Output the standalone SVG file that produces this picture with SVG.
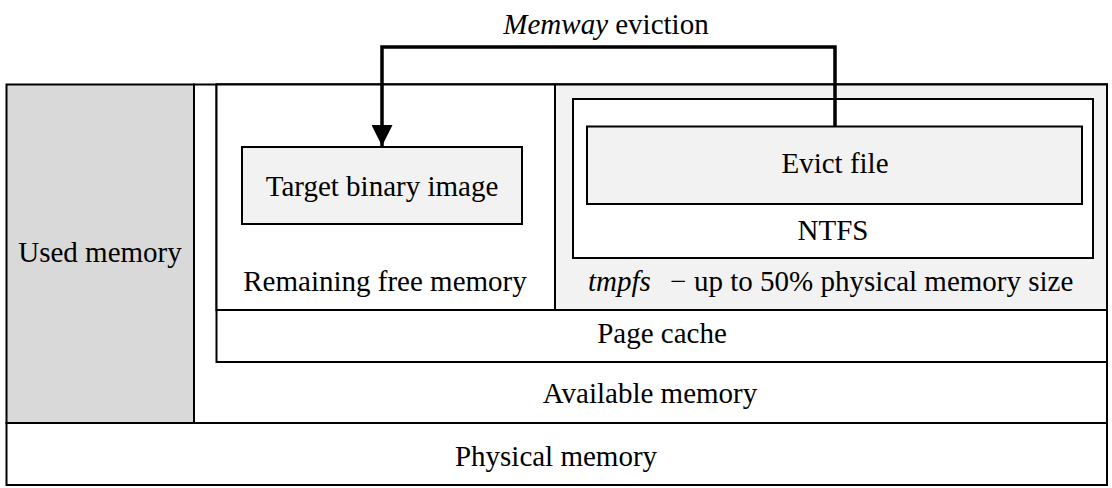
<svg xmlns="http://www.w3.org/2000/svg" width="1112" height="488" viewBox="0 0 1112 488">
<style>
.b{stroke:#000;stroke-width:2;}
.t{font-family:"Liberation Serif","Times New Roman",serif;font-size:29px;fill:#000;text-anchor:middle;}
.s{text-anchor:start;}
.i{font-style:italic;}
</style>
<defs>
<marker id="ah" markerWidth="21" markerHeight="21" refX="21" refY="10.5" orient="auto" markerUnits="userSpaceOnUse" viewBox="0 0 21 21">
<path d="M0,0 L21,10.5 L0,21 Z" fill="#000"/>
</marker>
</defs>
<rect width="1112" height="488" fill="#fff"/>
<g id="physical"><rect class="b" x="6.5" y="423" width="1100.5" height="62" fill="#fff"/><text class="t" x="556" y="466">Physical memory</text></g>
<g id="available"><rect class="b" x="194" y="84.5" width="913" height="338.5" fill="#fff"/><text class="t" x="650" y="403">Available memory</text></g>
<g id="used"><rect class="b" x="6.5" y="84.5" width="187.5" height="338.5" fill="#d9d9d9"/><text class="t" x="100" y="262">Used memory</text></g>
<g id="pagecache"><rect class="b" x="216.5" y="84.5" width="890.5" height="277.5" fill="#fff"/><text class="t" x="662" y="343">Page cache</text></g>
<g id="remaining"><rect class="b" x="216.5" y="84.5" width="338.5" height="225.5" fill="#fff"/><text class="t" x="385" y="291">Remaining free memory</text></g>
<g id="tmpfs"><rect class="b" x="555" y="84.5" width="552" height="225.5" fill="#f2f2f2"/><text class="t s" y="291"><tspan class="i" x="588">tmpfs</tspan><tspan x="670">−</tspan><tspan x="694">up to 50% physical memory size</tspan></text></g>
<g id="ntfs"><rect class="b" x="573" y="99" width="520" height="159" fill="#fff"/><text class="t" x="833" y="240">NTFS</text></g>
<g id="evict"><rect class="b" x="587" y="126.5" width="495" height="77.5" fill="#f2f2f2"/><text class="t" x="835" y="173">Evict file</text></g>
<g id="target"><rect class="b" x="242" y="147" width="280" height="77" fill="#f2f2f2"/><text class="t" x="382" y="196">Target binary image</text></g>
<g id="connectors">
<path d="M835,126 L835,47 L382,47 L382,146" fill="none" stroke="#000" stroke-width="3.5" marker-end="url(#ah)"/>
<text class="t" x="606" y="34"><tspan class="i">Memway</tspan> eviction</text>
</g>
</svg>
